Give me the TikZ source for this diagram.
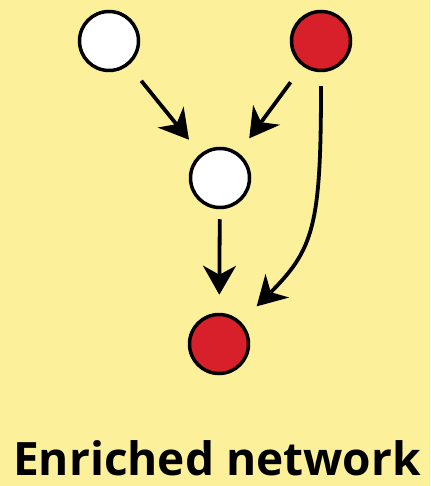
\documentclass[tikz,border=0pt]{standalone}
\usepackage{fontspec}
\setmainfont{Open Sans}
\usetikzlibrary{arrows.meta,positioning,calc}
\definecolor{bgyellow}{HTML}{FCF09A}
\definecolor{nodered}{HTML}{D7202A}

\begin{document}
\begin{tikzpicture}[x=1pt,y=-1pt,
  gene/.style={circle,draw=black,line width=3.5pt,minimum size=59pt,inner sep=0pt},
  link/.style={line width=3.8pt,-{Stealth[length=29pt,width=33pt,inset=9pt]}}]
\fill[bgyellow] (0,0) rectangle (430,486);
\useasboundingbox (0,0) rectangle (430,486);
\node[gene,fill=white] (wa) at (109,41) {};
\node[gene,fill=nodered] (ra) at (321,41) {};
\node[gene,fill=white] (wb) at (220,178) {};
\node[gene,fill=nodered] (rb) at (219,344) {};
\draw[link,shorten <=20pt,shorten >=18pt] (wa) -- (wb);
\draw[link,shorten <=20pt,shorten >=18pt] (ra) -- (wb);
\draw[link,shorten <=10pt,shorten >=18pt] (wb) -- (rb);
\draw[link,shorten <=14pt,shorten >=22pt] (ra.south) to[out=-90,in=45,out looseness=1.5] (rb.45);
\node[anchor=base,font=\bfseries\fontsize{46}{52}\selectfont] (title) at (217,475) {Enriched network};
\end{tikzpicture}
\end{document}
